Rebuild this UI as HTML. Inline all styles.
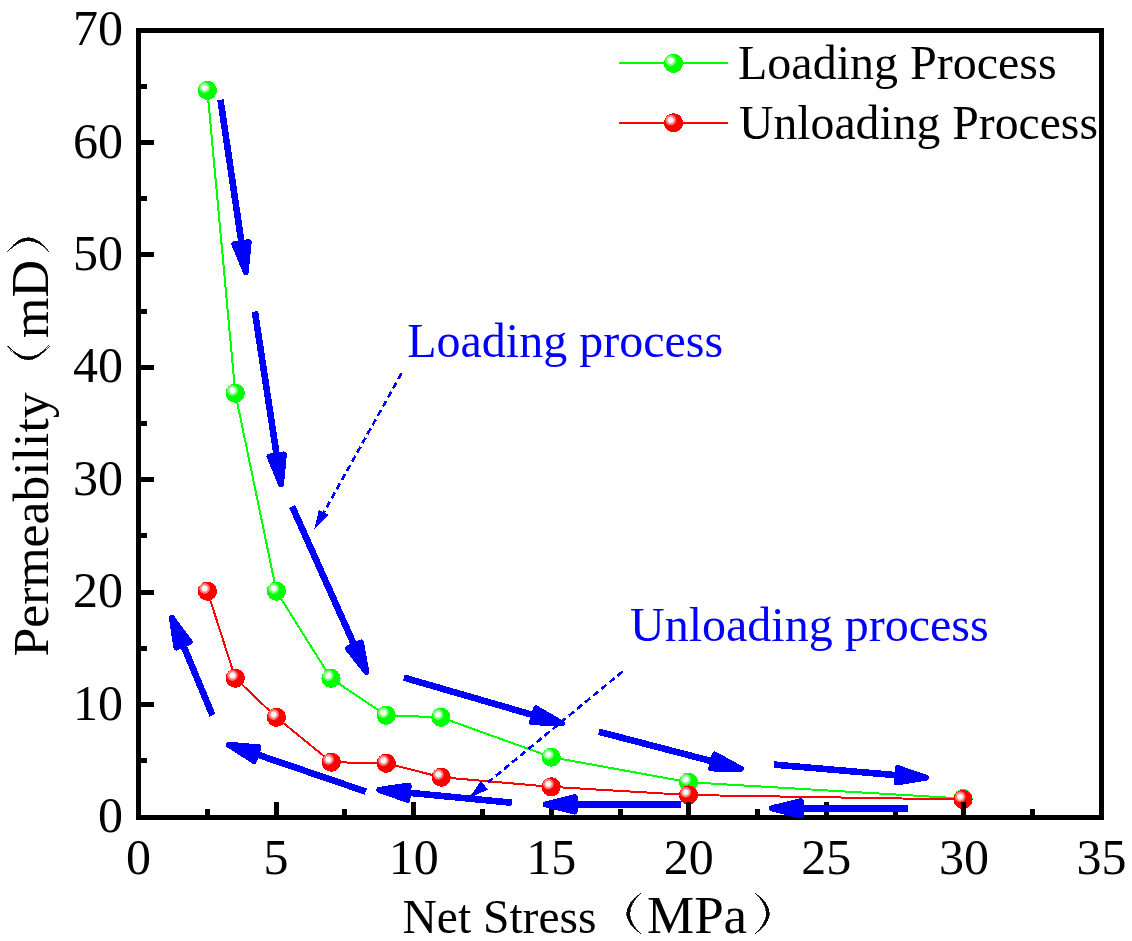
<!DOCTYPE html>
<html><head><meta charset="utf-8"><style>
html,body{margin:0;padding:0;background:#fff;}
body{width:1132px;height:941px;overflow:hidden;font-family:"Liberation Serif",serif;}
svg{display:block;will-change:transform;}
</style></head><body>
<svg shape-rendering="crispEdges" width="1132" height="941" viewBox="0 0 1132 941"><defs>
<radialGradient id="g" gradientUnits="userSpaceOnUse" cx="0" cy="0" r="12">
<stop offset="0" stop-color="#ffffff"/><stop offset="0.17" stop-color="#ffffff"/><stop offset="0.24" stop-color="#d0ffd0"/><stop offset="0.3" stop-color="#8cff8c"/><stop offset="0.42" stop-color="#66ff66"/><stop offset="0.47" stop-color="#00ff00"/><stop offset="1" stop-color="#00ff00"/>
</radialGradient>
<radialGradient id="r" gradientUnits="userSpaceOnUse" cx="0" cy="0" r="12">
<stop offset="0" stop-color="#ffffff"/><stop offset="0.17" stop-color="#ffffff"/><stop offset="0.24" stop-color="#ffd0d0"/><stop offset="0.3" stop-color="#ff8c8c"/><stop offset="0.42" stop-color="#ff6666"/><stop offset="0.47" stop-color="#ff0000"/><stop offset="1" stop-color="#ff0000"/>
</radialGradient>
</defs>
<polyline points="207.4,90.4 235.3,393.2 276.4,591.2 331,678.3 386.2,715.3 440.8,717.3 551.2,757.1 688.5,782.2 963,798.5" fill="none" stroke="#00ff00" stroke-width="2"/>
<g transform="translate(204.6,87.6)"><circle cx="2.8" cy="2.8" r="9.6" fill="url(#g)"/></g><g transform="translate(232.5,390.4)"><circle cx="2.8" cy="2.8" r="9.6" fill="url(#g)"/></g><g transform="translate(273.6,588.4)"><circle cx="2.8" cy="2.8" r="9.6" fill="url(#g)"/></g><g transform="translate(328.2,675.5)"><circle cx="2.8" cy="2.8" r="9.6" fill="url(#g)"/></g><g transform="translate(383.4,712.5)"><circle cx="2.8" cy="2.8" r="9.6" fill="url(#g)"/></g><g transform="translate(438,714.5)"><circle cx="2.8" cy="2.8" r="9.6" fill="url(#g)"/></g><g transform="translate(548.4,754.3)"><circle cx="2.8" cy="2.8" r="9.6" fill="url(#g)"/></g><g transform="translate(685.7,779.4)"><circle cx="2.8" cy="2.8" r="9.6" fill="url(#g)"/></g><g transform="translate(960.2,795.7)"><circle cx="2.8" cy="2.8" r="9.6" fill="url(#g)"/></g>
<polyline points="207.4,591.2 235.3,678.2 276.4,717.3 331.3,762.2 386.3,763.3 441.1,777.2 551.2,786.8 688.5,795 963,799.5" fill="none" stroke="#ff0000" stroke-width="2"/>
<g transform="translate(204.6,588.4)"><circle cx="2.8" cy="2.8" r="9.6" fill="url(#r)"/></g><g transform="translate(232.5,675.4)"><circle cx="2.8" cy="2.8" r="9.6" fill="url(#r)"/></g><g transform="translate(273.6,714.5)"><circle cx="2.8" cy="2.8" r="9.6" fill="url(#r)"/></g><g transform="translate(328.5,759.4)"><circle cx="2.8" cy="2.8" r="9.6" fill="url(#r)"/></g><g transform="translate(383.5,760.5)"><circle cx="2.8" cy="2.8" r="9.6" fill="url(#r)"/></g><g transform="translate(438.3,774.4)"><circle cx="2.8" cy="2.8" r="9.6" fill="url(#r)"/></g><g transform="translate(548.4,784)"><circle cx="2.8" cy="2.8" r="9.6" fill="url(#r)"/></g><g transform="translate(685.7,792.2)"><circle cx="2.8" cy="2.8" r="9.6" fill="url(#r)"/></g><g transform="translate(960.2,796.7)"><circle cx="2.8" cy="2.8" r="9.6" fill="url(#r)"/></g>
<rect x="138.5" y="30.5" width="963" height="787" fill="none" stroke="#000" stroke-width="5"/>
<line x1="207.29" y1="816" x2="207.29" y2="809" stroke="#000" stroke-width="5"/>
<line x1="276.07" y1="816" x2="276.07" y2="802" stroke="#000" stroke-width="5"/>
<line x1="344.86" y1="816" x2="344.86" y2="809" stroke="#000" stroke-width="5"/>
<line x1="413.64" y1="816" x2="413.64" y2="802" stroke="#000" stroke-width="5"/>
<line x1="482.43" y1="816" x2="482.43" y2="809" stroke="#000" stroke-width="5"/>
<line x1="551.21" y1="816" x2="551.21" y2="802" stroke="#000" stroke-width="5"/>
<line x1="620" y1="816" x2="620" y2="809" stroke="#000" stroke-width="5"/>
<line x1="688.79" y1="816" x2="688.79" y2="802" stroke="#000" stroke-width="5"/>
<line x1="757.57" y1="816" x2="757.57" y2="809" stroke="#000" stroke-width="5"/>
<line x1="826.36" y1="816" x2="826.36" y2="802" stroke="#000" stroke-width="5"/>
<line x1="895.14" y1="816" x2="895.14" y2="809" stroke="#000" stroke-width="5"/>
<line x1="963.93" y1="816" x2="963.93" y2="802" stroke="#000" stroke-width="5"/>
<line x1="1032.71" y1="816" x2="1032.71" y2="809" stroke="#000" stroke-width="5"/>
<line x1="140" y1="760.84" x2="147" y2="760.84" stroke="#000" stroke-width="5"/>
<line x1="140" y1="704.62" x2="154" y2="704.62" stroke="#000" stroke-width="5"/>
<line x1="140" y1="648.41" x2="147" y2="648.41" stroke="#000" stroke-width="5"/>
<line x1="140" y1="592.19" x2="154" y2="592.19" stroke="#000" stroke-width="5"/>
<line x1="140" y1="535.98" x2="147" y2="535.98" stroke="#000" stroke-width="5"/>
<line x1="140" y1="479.76" x2="154" y2="479.76" stroke="#000" stroke-width="5"/>
<line x1="140" y1="423.55" x2="147" y2="423.55" stroke="#000" stroke-width="5"/>
<line x1="140" y1="367.34" x2="154" y2="367.34" stroke="#000" stroke-width="5"/>
<line x1="140" y1="311.12" x2="147" y2="311.12" stroke="#000" stroke-width="5"/>
<line x1="140" y1="254.91" x2="154" y2="254.91" stroke="#000" stroke-width="5"/>
<line x1="140" y1="198.69" x2="147" y2="198.69" stroke="#000" stroke-width="5"/>
<line x1="140" y1="142.48" x2="154" y2="142.48" stroke="#000" stroke-width="5"/>
<line x1="140" y1="86.26" x2="147" y2="86.26" stroke="#000" stroke-width="5"/>
<g font-family="Liberation Serif" font-size="50" fill="#000"><text x="138.5" y="873.5" text-anchor="middle">0</text>
<text x="276.07" y="873.5" text-anchor="middle">5</text>
<text x="413.64" y="873.5" text-anchor="middle">10</text>
<text x="551.21" y="873.5" text-anchor="middle">15</text>
<text x="688.79" y="873.5" text-anchor="middle">20</text>
<text x="826.36" y="873.5" text-anchor="middle">25</text>
<text x="963.93" y="873.5" text-anchor="middle">30</text>
<text x="1101.5" y="873.5" text-anchor="middle">35</text>
<text x="123" y="832.1" text-anchor="end">0</text>
<text x="123" y="719.67" text-anchor="end">10</text>
<text x="123" y="607.24" text-anchor="end">20</text>
<text x="123" y="494.81" text-anchor="end">30</text>
<text x="123" y="382.39" text-anchor="end">40</text>
<text x="123" y="269.96" text-anchor="end">50</text>
<text x="123" y="157.53" text-anchor="end">60</text>
<text x="123" y="45.1" text-anchor="end">70</text></g>
<text x="402.5" y="933.3" font-family="Liberation Serif" font-size="47.5">Net Stress</text>
<text x="647" y="932.8" font-family="Liberation Serif" font-size="53">MPa</text>
<path d="M641,893 Q612.6,913.5 641,934 Q618.6,913.5 641,893Z" fill="#000" stroke="#000" stroke-width="0.7"/>
<path d="M755,893 Q783.6,913.5 755,934 Q777.6,913.5 755,893Z" fill="#000" stroke="#000" stroke-width="0.7"/>
<g transform="translate(47.8,656.5) rotate(-90)"><text x="0" y="0" font-family="Liberation Serif" font-size="51.7">Permeability</text><text x="318.5" y="0" font-family="Liberation Serif" font-size="52">mD</text></g>
<path d="M7.6,345.5 Q28.3,374.1 49,345.5 Q28.3,368.5 7.6,345.5Z" fill="#000" stroke="#000" stroke-width="0.7"/>
<path d="M7.6,251.7 Q28.3,223.9 49,251.7 Q28.3,229.5 7.6,251.7Z" fill="#000" stroke="#000" stroke-width="0.7"/>
<line x1="619" y1="63" x2="728" y2="63" stroke="#00ff00" stroke-width="2"/>
<g transform="translate(670.7,60.6)"><circle cx="2.8" cy="2.8" r="9.6" fill="url(#g)"/></g>
<line x1="619" y1="123" x2="728" y2="123" stroke="#ff0000" stroke-width="2"/>
<g transform="translate(670.7,120)"><circle cx="2.8" cy="2.8" r="9.6" fill="url(#r)"/></g>
<text x="738" y="79.2" font-family="Liberation Serif" font-size="48">Loading Process</text>
<text x="739" y="139.1" font-family="Liberation Serif" font-size="47.7">Unloading Process</text>
<text x="407.2" y="357" font-family="Liberation Serif" font-size="48" fill="#0000ff">Loading process</text>
<text x="630" y="640.9" font-family="Liberation Serif" font-size="48" fill="#0000ff">Unloading process</text>
<line x1="401.4" y1="373.4" x2="323.84" y2="512.43" stroke="#0000ff" stroke-width="2.6" stroke-dasharray="6.6 3.9"/>
<polygon points="314.1,529.9 318.95,509.71 328.73,515.16" fill="#0000ff"/>
<line x1="622.6" y1="671.5" x2="484.44" y2="785.29" stroke="#0000ff" stroke-width="2.6" stroke-dasharray="6.6 3.9"/>
<polygon points="469,798 480.88,780.96 488,789.61" fill="#0000ff"/>
<line x1="220.5" y1="99.8" x2="242.13" y2="247.2" stroke="#0000ff" stroke-width="6.6"/>
<polygon points="245.76,271.93 234.43,244.28 248.68,242.19" fill="#0000ff" stroke="#0000ff" stroke-width="6" stroke-linejoin="round"/>
<line x1="254.9" y1="311.5" x2="277.31" y2="459.52" stroke="#0000ff" stroke-width="6.6"/>
<polygon points="281.05,484.23 269.59,456.64 283.83,454.48" fill="#0000ff" stroke="#0000ff" stroke-width="6" stroke-linejoin="round"/>
<line x1="292.2" y1="506.5" x2="356.06" y2="649.14" stroke="#0000ff" stroke-width="6.6"/>
<polygon points="366.27,671.96 347.85,648.44 361,642.55" fill="#0000ff" stroke="#0000ff" stroke-width="6" stroke-linejoin="round"/>
<line x1="403.9" y1="677.6" x2="537.81" y2="716.41" stroke="#0000ff" stroke-width="6.6"/>
<polygon points="561.82,723.36 531.96,722.21 535.97,708.38" fill="#0000ff" stroke="#0000ff" stroke-width="6" stroke-linejoin="round"/>
<line x1="598.8" y1="731.7" x2="716.81" y2="762.52" stroke="#0000ff" stroke-width="6.6"/>
<polygon points="741,768.84 711.12,768.48 714.76,754.55" fill="#0000ff" stroke="#0000ff" stroke-width="6" stroke-linejoin="round"/>
<line x1="774" y1="764.6" x2="901.2" y2="775.59" stroke="#0000ff" stroke-width="6.6"/>
<polygon points="926.11,777.74 896.6,782.42 897.84,768.07" fill="#0000ff" stroke="#0000ff" stroke-width="6" stroke-linejoin="round"/>
<line x1="907.9" y1="808.3" x2="796.7" y2="808.3" stroke="#0000ff" stroke-width="6.6"/>
<polygon points="771.7,808.3 800.7,801.1 800.7,815.5" fill="#0000ff" stroke="#0000ff" stroke-width="6" stroke-linejoin="round"/>
<line x1="681" y1="804.4" x2="570.6" y2="804.4" stroke="#0000ff" stroke-width="6.6"/>
<polygon points="545.6,804.4 574.6,797.2 574.6,811.6" fill="#0000ff" stroke="#0000ff" stroke-width="6" stroke-linejoin="round"/>
<line x1="511.7" y1="802.7" x2="404.07" y2="792.29" stroke="#0000ff" stroke-width="6.6"/>
<polygon points="379.19,789.89 408.74,785.51 407.36,799.85" fill="#0000ff" stroke="#0000ff" stroke-width="6" stroke-linejoin="round"/>
<line x1="365.8" y1="791.6" x2="252.4" y2="752.85" stroke="#0000ff" stroke-width="6.6"/>
<polygon points="228.74,744.77 258.51,747.33 253.85,760.96" fill="#0000ff" stroke="#0000ff" stroke-width="6" stroke-linejoin="round"/>
<line x1="212.5" y1="715.3" x2="181.49" y2="641.04" stroke="#0000ff" stroke-width="6.6"/>
<polygon points="171.86,617.97 189.67,641.95 176.39,647.5" fill="#0000ff" stroke="#0000ff" stroke-width="6" stroke-linejoin="round"/></svg>
</body></html>
